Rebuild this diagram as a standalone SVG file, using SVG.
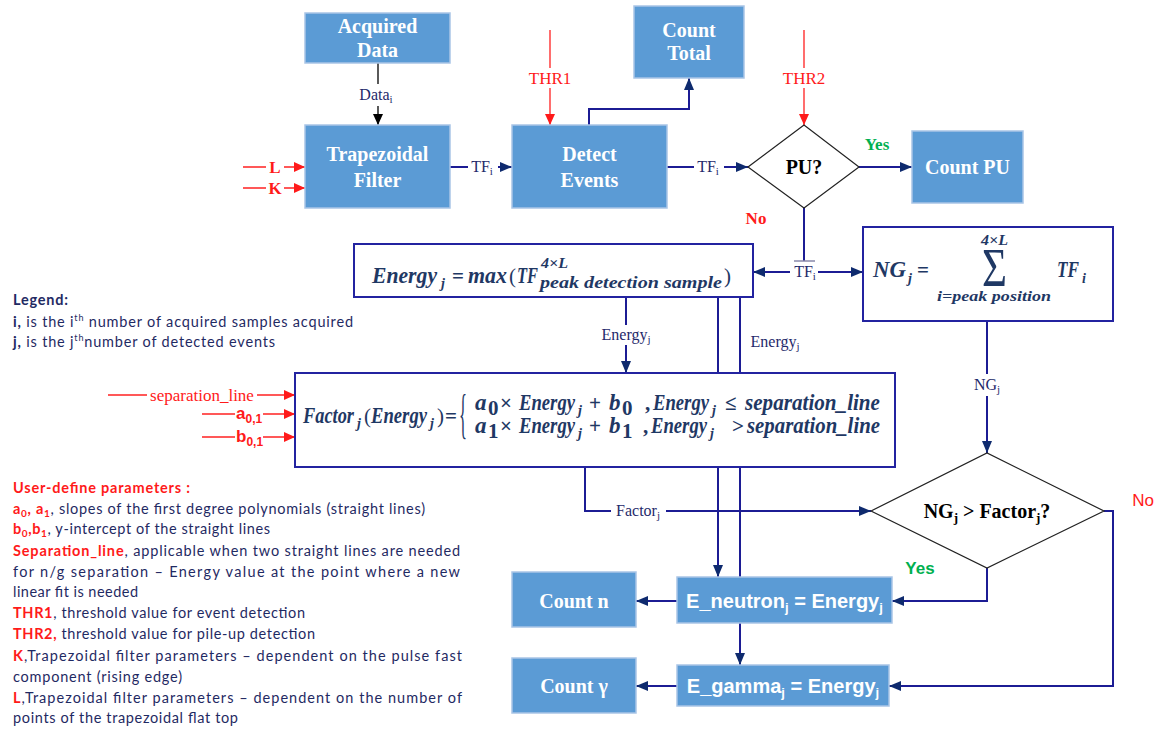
<svg xmlns="http://www.w3.org/2000/svg" width="1163" height="732" viewBox="0 0 1163 732">
<defs>
<style>
.box{fill:#5B9BD5;stroke:#A9C5E6;stroke-width:1.5}
.bt{font-family:"Liberation Serif",serif;font-weight:bold;font-size:20px;fill:#fff;text-anchor:middle}
.bs{font-family:"Liberation Sans",Arial,sans-serif;font-weight:bold;font-size:20px;fill:#fff;text-anchor:middle}
.fbox{fill:#fff;stroke:#2323A0;stroke-width:2}
.dia{fill:#fff;stroke:#222;stroke-width:1.2}
.ln{stroke:#1C1C94;stroke-width:2;fill:none}
.lk{stroke:#000;stroke-width:1.3;fill:none}
.rl{stroke:#FF2020;stroke-width:1.3;fill:none}
.bg{fill:#fff}
.lbl{font-family:"Liberation Serif",serif;font-size:16px;fill:#1F2A6B;text-anchor:middle}
.rlbl{font-family:"Liberation Serif",serif;font-size:17px;fill:#FF1A1A;text-anchor:middle}
.m{font-family:"Liberation Serif",serif;font-weight:bold;font-style:italic;fill:#1F3864;font-size:23px}
.mu{font-style:normal;font-size:21px}
.leg{font-family:Lato,"Liberation Sans",sans-serif;font-size:14.5px;fill:#1F2A63}
.red{fill:#FF1A1A;font-weight:bold}
</style>
<marker id="an" markerUnits="userSpaceOnUse" markerWidth="13" markerHeight="10" refX="12" refY="5" orient="auto"><path d="M0,0 L12,5 L0,10 z" fill="#0E2A6E"/></marker>
<marker id="ar" markerUnits="userSpaceOnUse" markerWidth="12" markerHeight="10" refX="11" refY="5" orient="auto"><path d="M0,0 L11,5 L0,10 z" fill="#FF1A1A"/></marker>
<marker id="ak" markerUnits="userSpaceOnUse" markerWidth="12" markerHeight="10" refX="11" refY="5" orient="auto"><path d="M0,0 L11,5 L0,10 z" fill="#000"/></marker>
</defs>
<rect width="1163" height="732" fill="#fff"/>

<g id="connectors">
<path class="lk" d="M378,63 V125" marker-end="url(#ak)"/>
<path class="ln" d="M450,167 H512" marker-end="url(#an)"/>
<path class="ln" d="M589,125 V109 H689 V78" marker-end="url(#an)"/>
<path class="ln" d="M667,167 H748" marker-end="url(#an)"/>
<path class="ln" d="M859,167 H912" marker-end="url(#an)"/>
<path class="rl" d="M550,30 V125" marker-end="url(#ar)"/>
<path class="rl" d="M804,30 V125" marker-end="url(#ar)"/>
<path class="rl" d="M243,167 H305" marker-end="url(#ar)"/>
<path class="rl" d="M243,188 H305" marker-end="url(#ar)"/>
<path class="ln" d="M804,208 V261"/>
<path d="M794,261 H815" stroke="#8888AA" stroke-width="1.5"/>
<path class="ln" d="M790,272 H753" marker-end="url(#an)"/>
<path class="ln" d="M818,272 H863" marker-end="url(#an)"/>
<path class="ln" d="M626,297 V373" marker-end="url(#an)"/>
<path class="ln" d="M718,297 V577" marker-end="url(#an)"/>
<path class="ln" d="M740,297 V577"/>
<path class="ln" d="M740,623 V665" marker-end="url(#an)"/>
<path class="ln" d="M585,467 V511 H871" marker-end="url(#an)"/>
<path class="ln" d="M987,321 V453" marker-end="url(#an)"/>
<path class="ln" d="M987,568 V601 H892" marker-end="url(#an)"/>
<path class="ln" d="M1104,511 H1113 V686 H889" marker-end="url(#an)"/>
<path class="ln" d="M677,601 H636" marker-end="url(#an)"/>
<path class="ln" d="M677,686 H636" marker-end="url(#an)"/>
<path class="rl" d="M108,395 H295" marker-end="url(#ar)"/>
<path class="rl" d="M202,414 H295" marker-end="url(#ar)"/>
<path class="rl" d="M202,437 H295" marker-end="url(#ar)"/>

<rect class="bg" x="358" y="84" width="40" height="22"/>
<text class="lbl" x="376" y="100">Data<tspan font-size="11" dy="3">i</tspan></text>
<rect class="bg" x="468" y="156" width="30" height="22"/>
<text class="lbl" x="482" y="172">TF<tspan font-size="11" dy="3">i</tspan></text>
<rect class="bg" x="694" y="156" width="30" height="22"/>
<text class="lbl" x="708" y="172">TF<tspan font-size="11" dy="3">i</tspan></text>
<rect class="bg" x="794" y="263" width="23" height="20"/>
<text class="lbl" x="805" y="277">TF<tspan font-size="11" dy="3">i</tspan></text>
<rect class="bg" x="528" y="68" width="44" height="20"/>
<text class="rlbl" x="550" y="84">THR1</text>
<rect class="bg" x="782" y="68" width="44" height="20"/>
<text class="rlbl" x="804" y="84">THR2</text>
<rect class="bg" x="266" y="157" width="18" height="40"/>
<text class="rlbl" x="275" y="173" font-weight="bold" font-size="18">L</text>
<text class="rlbl" x="275" y="194" font-weight="bold" font-size="18">K</text>
<rect class="bg" x="598" y="325" width="58" height="20"/>
<text class="lbl" x="626" y="340">Energy<tspan font-size="11" dy="3">j</tspan></text>
<text class="lbl" x="775" y="347">Energy<tspan font-size="11" dy="3">j</tspan></text>
<rect class="bg" x="611" y="501" width="55" height="20"/>
<text class="lbl" x="638" y="516">Factor<tspan font-size="11" dy="3">j</tspan></text>
<rect class="bg" x="970" y="374" width="34" height="22"/>
<text class="lbl" x="987" y="390">NG<tspan font-size="11" dy="3">j</tspan></text>
<rect class="bg" x="147" y="385" width="110" height="20"/>
<text class="rlbl" x="202" y="401">separation_line</text>
<rect class="bg" x="235" y="404" width="28" height="40"/>
<text font-family="Liberation Sans, Arial, sans-serif" font-weight="bold" font-size="17" fill="#FF1A1A" x="236" y="419">a<tspan font-size="12" dy="4">0,1</tspan></text>
<text font-family="Liberation Sans, Arial, sans-serif" font-weight="bold" font-size="17" fill="#FF1A1A" x="236" y="442">b<tspan font-size="12" dy="4">0,1</tspan></text>
<text font-family="Liberation Serif, serif" font-weight="bold" font-size="17" fill="#00B050" x="877" y="150" text-anchor="middle">Yes</text>
<text font-family="Liberation Serif, serif" font-weight="bold" font-size="17" fill="#FF1A1A" x="756" y="224" text-anchor="middle">No</text>
<text font-family="Liberation Sans, Arial, sans-serif" font-weight="bold" font-size="17" fill="#00B050" x="920" y="574" text-anchor="middle">Yes</text>
<text font-family="Liberation Sans, Arial, sans-serif" font-size="17" fill="#FF1A1A" x="1143" y="506" text-anchor="middle">No</text>
</g>

<g id="acquired-data"><rect class="box" x="305" y="13" width="145" height="50"/><text class="bt" x="377.5" y="33">Acquired</text><text class="bt" x="377.5" y="57">Data</text></g>
<g id="trapezoidal-filter"><rect class="box" x="305" y="125" width="145" height="83"/><text class="bt" x="377.5" y="161">Trapezoidal</text><text class="bt" x="377.5" y="187">Filter</text></g>
<g id="detect-events"><rect class="box" x="512" y="125" width="155" height="83"/><text class="bt" x="589.5" y="161">Detect</text><text class="bt" x="589.5" y="187">Events</text></g>
<g id="count-total"><rect class="box" x="634" y="6" width="110" height="72"/><text class="bt" x="689" y="37">Count</text><text class="bt" x="689" y="60">Total</text></g>
<g id="pu-decision"><polygon class="dia" points="748,167 804,125 859,167 804,208"/><text x="804" y="174" text-anchor="middle" font-family="Liberation Serif, serif" font-weight="bold" font-size="20" fill="#000">PU?</text></g>
<g id="count-pu"><rect class="box" x="912" y="131" width="111" height="72"/><text class="bt" x="967.5" y="174">Count PU</text></g>

<g id="energy">
<rect class="fbox" x="354" y="244" width="399" height="53"/>
<text class="m"><tspan x="372" y="283" textLength="65" lengthAdjust="spacingAndGlyphs">Energy</tspan><tspan x="441" y="288" font-size="14">j</tspan><tspan class="mu" x="452" y="283">=</tspan><tspan x="468" y="283" textLength="39" lengthAdjust="spacingAndGlyphs">max</tspan><tspan class="mu" x="509" y="283" font-weight="normal">(</tspan><tspan x="517" y="283" textLength="21" lengthAdjust="spacingAndGlyphs">TF</tspan><tspan x="541" y="268" font-size="15" textLength="27" lengthAdjust="spacingAndGlyphs">4×L</tspan><tspan x="540" y="288" font-size="16" textLength="182" lengthAdjust="spacingAndGlyphs">peak detection sample</tspan><tspan class="mu" x="724" y="283" font-weight="normal">)</tspan></text>
</g>

<g id="ng">
<rect class="fbox" x="863" y="227" width="250" height="94"/>
<text class="m"><tspan x="873" y="277" textLength="33" lengthAdjust="spacingAndGlyphs">NG</tspan><tspan x="908" y="283" font-size="14">j</tspan><tspan class="mu" x="917" y="277">=</tspan><tspan x="982" y="286" font-size="54" font-weight="normal" font-style="normal" textLength="25" lengthAdjust="spacingAndGlyphs">Σ</tspan><tspan x="981" y="245" font-size="15" textLength="27" lengthAdjust="spacingAndGlyphs">4×L</tspan><tspan x="937" y="301" font-size="15" textLength="114" lengthAdjust="spacingAndGlyphs">i=peak position</tspan><tspan x="1057" y="277" textLength="22" lengthAdjust="spacingAndGlyphs">TF</tspan><tspan x="1082" y="283" font-size="14">i</tspan></text>
</g>

<g id="factor">
<rect class="fbox" x="295" y="373" width="600" height="94"/>
<text class="m"><tspan x="303" y="423" textLength="51" lengthAdjust="spacingAndGlyphs">Factor</tspan><tspan x="357" y="428" font-size="14">j</tspan><tspan class="mu" x="364" y="423" font-weight="normal">(</tspan><tspan x="371" y="423" textLength="56" lengthAdjust="spacingAndGlyphs">Energy</tspan><tspan x="430" y="428" font-size="14">j</tspan><tspan class="mu" x="437" y="423" font-weight="normal">)</tspan><tspan class="mu" x="445" y="423">=</tspan><tspan x="459" y="432" font-size="54" font-weight="normal" font-style="normal" textLength="8" lengthAdjust="spacingAndGlyphs">{</tspan></text>
<text class="m"><tspan x="475" y="410">a</tspan><tspan class="mu" x="488" y="415" font-size="13">0</tspan><tspan class="mu" x="500" y="410" font-size="19">×</tspan><tspan x="519" y="410" textLength="56" lengthAdjust="spacingAndGlyphs">Energy</tspan><tspan x="578" y="415" font-size="14">j</tspan><tspan class="mu" x="589" y="410" font-size="19">+</tspan><tspan x="609" y="410">b</tspan><tspan class="mu" x="622" y="415" font-size="13">0</tspan><tspan class="mu" x="645" y="410">,</tspan><tspan x="653" y="410" textLength="56" lengthAdjust="spacingAndGlyphs">Energy</tspan><tspan x="712" y="415" font-size="14">j</tspan><tspan class="mu" x="725" y="410" font-size="19">≤</tspan><tspan x="745" y="410" textLength="135" lengthAdjust="spacingAndGlyphs">separation_line</tspan></text>
<text class="m"><tspan x="475" y="433">a</tspan><tspan class="mu" x="488" y="438" font-size="13">1</tspan><tspan class="mu" x="500" y="433" font-size="19">×</tspan><tspan x="519" y="433" textLength="56" lengthAdjust="spacingAndGlyphs">Energy</tspan><tspan x="578" y="438" font-size="14">j</tspan><tspan class="mu" x="589" y="433" font-size="19">+</tspan><tspan x="609" y="433">b</tspan><tspan class="mu" x="622" y="438" font-size="13">1</tspan><tspan class="mu" x="643" y="433">,</tspan><tspan x="651" y="433" textLength="56" lengthAdjust="spacingAndGlyphs">Energy</tspan><tspan x="710" y="438" font-size="14">j</tspan><tspan class="mu" x="732" y="433" font-size="19">&gt;</tspan><tspan x="747" y="433" textLength="133" lengthAdjust="spacingAndGlyphs">separation_line</tspan></text>
</g>

<g id="ng-factor-decision"><polygon class="dia" points="871,511 987,453 1104,511 987,568"/><text x="987" y="518" text-anchor="middle" font-family="Liberation Serif, serif" font-weight="bold" font-size="20" fill="#000">NG<tspan font-size="13" dy="4">j</tspan><tspan dy="-4"> &gt; Factor</tspan><tspan font-size="13" dy="4">j</tspan><tspan dy="-4">?</tspan></text></g>
<g id="count-n"><rect class="box" x="512" y="572" width="124" height="55"/><text class="bt" x="574" y="608">Count n</text></g>
<g id="e-neutron"><rect class="box" x="677" y="577" width="215" height="46"/><text class="bs" x="784.5" y="608">E_neutron<tspan font-size="13" dy="4">j</tspan><tspan dy="-4"> = Energy</tspan><tspan font-size="13" dy="4">j</tspan></text></g>
<g id="count-gamma"><rect class="box" x="512" y="658" width="124" height="55"/><text class="bt" x="574" y="693">Count γ</text></g>
<g id="e-gamma"><rect class="box" x="677" y="665" width="212" height="41"/><text class="bs" x="783" y="693">E_gamma<tspan font-size="13" dy="4">j</tspan><tspan dy="-4"> = Energy</tspan><tspan font-size="13" dy="4">j</tspan></text></g>

<g id="legend">
<text class="leg" x="13" y="305" font-weight="bold" textLength="55" lengthAdjust="spacing">Legend:</text>
<text class="leg" x="13" y="327" textLength="340" lengthAdjust="spacing"><tspan font-weight="bold">i,</tspan> is the i<tspan font-size="9" dy="-6">th</tspan><tspan dy="6"> number of acquired samples acquired</tspan></text>
<text class="leg" x="13" y="347" textLength="262" lengthAdjust="spacing"><tspan font-weight="bold">j,</tspan> is the j<tspan font-size="9" dy="-6">th</tspan><tspan dy="6">number of detected events</tspan></text>
</g>

<g id="user-parameters">
<text class="leg" x="13" y="493" textLength="177" lengthAdjust="spacing"><tspan class="red">User-define parameters :</tspan></text>
<text class="leg" x="13" y="514" textLength="412" lengthAdjust="spacing"><tspan class="red">a</tspan><tspan class="red" font-size="10" dy="3">0</tspan><tspan class="red" dy="-3">, a</tspan><tspan class="red" font-size="10" dy="3">1</tspan><tspan dy="-3">, slopes of the first degree polynomials (straight lines)</tspan></text>
<text class="leg" x="13" y="534" textLength="257" lengthAdjust="spacing"><tspan class="red">b</tspan><tspan class="red" font-size="10" dy="3">0</tspan><tspan class="red" dy="-3">,b</tspan><tspan class="red" font-size="10" dy="3">1</tspan><tspan dy="-3">, y-intercept of the straight lines</tspan></text>
<text class="leg" x="13" y="556" textLength="447" lengthAdjust="spacing"><tspan class="red">Separation_line</tspan>, applicable when two straight lines are needed</text>
<text class="leg" x="13" y="577" textLength="447" lengthAdjust="spacing">for n/g separation – Energy value at the point where a new</text>
<text class="leg" x="13" y="597" textLength="125" lengthAdjust="spacing">linear fit is needed</text>
<text class="leg" x="13" y="618" textLength="292" lengthAdjust="spacing"><tspan class="red">THR1</tspan>, threshold value for event detection</text>
<text class="leg" x="13" y="639" textLength="302" lengthAdjust="spacing"><tspan class="red">THR2,</tspan> threshold value for pile-up detection</text>
<text class="leg" x="13" y="661" textLength="449" lengthAdjust="spacing"><tspan class="red">K</tspan>,Trapezoidal filter parameters – dependent on the pulse fast</text>
<text class="leg" x="13" y="682" textLength="169" lengthAdjust="spacing">component (rising edge)</text>
<text class="leg" x="13" y="703" textLength="449" lengthAdjust="spacing"><tspan class="red">L</tspan>,Trapezoidal filter parameters – dependent on the number of</text>
<text class="leg" x="13" y="723" textLength="225" lengthAdjust="spacing">points of the trapezoidal flat top</text>
</g>
</svg>
